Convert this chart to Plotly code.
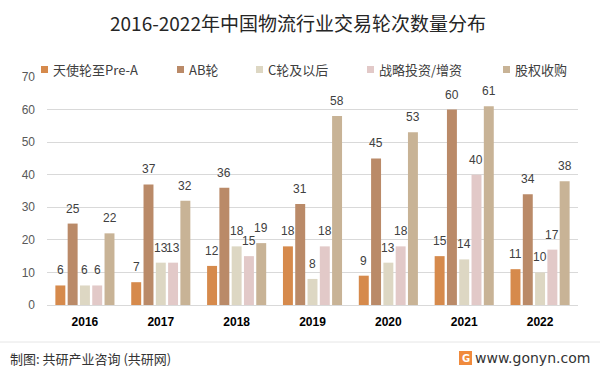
import plotly.graph_objects as go

years = ["2016", "2017", "2018", "2019", "2020", "2021", "2022"]
series_names = ["天使轮至Pre-A", "AB轮", "C轮及以后", "战略投资/增资", "股权收购"]
angel_prea = [6, 7, 12, 18, 9, 15, 11]
round_ab = [25, 37, 36, 31, 45, 60, 34]
round_c_plus = [6, 13, 18, 8, 13, 14, 10]
strategic = [6, 13, 15, 18, 18, 40, 17]
acquisition = [22, 32, 19, 58, 53, 61, 38]
y_ticks = [0, 10, 20, 30, 40, 50, 60, 70]

colors = ["#D68A4C", "#BA8A68", "#DDD7C3", "#E2C9C8", "#C8B396"]
values = [angel_prea, round_ab, round_c_plus, strategic, acquisition]

# plot area geometry (pixels)
PL, PR, PT, PB = 47, 578, 77, 305
PW, PH = PR - PL, PB - PT
BARGAP = 0.19
SLOT = PW / len(years) * (1 - BARGAP) / len(series_names)


def px(x):
    return (x - PL) / PW


def py(y):
    return (PB - y) / PH


fig = go.Figure()
annotations = []
shapes = []
n = len(series_names)
for i, (name, vals, col) in enumerate(zip(series_names, values, colors)):
    fig.add_trace(go.Bar(
        x=years, y=vals, name=name, marker=dict(color=col, line=dict(width=0)),
        showlegend=False,
    ))
    for j, v in enumerate(vals):
        # category axes place annotations by category index
        annotations.append(dict(x=j, y=v, xref="x", yref="y", text=str(v), showarrow=False,
                                xanchor="center", yanchor="bottom", yshift=6,
                                xshift=(i - (n - 1) / 2) * SLOT,
                                font=dict(size=12, color="#404040", family="Liberation Sans, Arial")))

font_cjk = "Noto Sans CJK SC, Microsoft YaHei, sans-serif"

# custom legend
leg_x = [41, 177, 256, 367, 503]
for xpos, name, col in zip(leg_x, series_names, colors):
    shapes.append(dict(type="rect", xref="paper", yref="paper",
                       x0=px(xpos), x1=px(xpos + 7),
                       y0=py(73), y1=py(66),
                       fillcolor=col, line=dict(width=0)))
    annotations.append(dict(text=name, xref="paper", yref="paper",
                            x=px(xpos + 10), y=py(69.5),
                            xanchor="left", yanchor="middle", showarrow=False,
                            font=dict(size=13, color="#404040", family=font_cjk)))

# title
annotations.append(dict(text="2016-2022年中国物流行业交易轮次数量分布", xref="paper", yref="paper",
                        x=px(298), y=py(22), xanchor="center", yanchor="middle",
                        showarrow=False, font=dict(size=19, color="#262626", family=font_cjk)))

# footer line
shapes.append(dict(type="line", xref="paper", yref="paper",
                   x0=px(0), x1=px(600), y0=py(342), y1=py(342),
                   line=dict(color="#E6E6E6", width=1)))
annotations.append(dict(text="制图: 共研产业咨询 (共研网)", xref="paper", yref="paper",
                        x=px(8), y=py(358), xanchor="left", yanchor="middle",
                        showarrow=False, font=dict(size=13, color="#333333", family=font_cjk)))
annotations.append(dict(text="www.gonyn.com", xref="paper", yref="paper",
                        x=px(592), y=py(358), xanchor="right", yanchor="middle",
                        showarrow=False, font=dict(size=14, color="#333333", family="DejaVu Sans, sans-serif")))
# logo
shapes.append(dict(type="rect", xref="paper", yref="paper",
                   x0=px(459), x1=px(472), y0=py(365), y1=py(351),
                   fillcolor="#F08A3C", line=dict(width=0)))
annotations.append(dict(text="<b>G</b>", xref="paper", yref="paper",
                        x=px(465.5), y=py(358), xanchor="center", yanchor="middle",
                        showarrow=False, font=dict(size=10, color="white", family="DejaVu Sans")))

fig.update_layout(
    width=600, height=372,
    margin=dict(l=PL, r=600 - PR, t=PT, b=372 - PB, pad=0),
    paper_bgcolor="white", plot_bgcolor="white",
    barmode="group", bargap=BARGAP, bargroupgap=0.19,
    showlegend=False,
    shapes=shapes, annotations=annotations,
    xaxis=dict(type="category", range=[-0.5, len(years) - 0.5], showgrid=False, showline=False, ticks="",
               tickfont=dict(size=12, color="#000000", family="Liberation Sans, Arial"),
               tickprefix="<b>", ticksuffix="</b>", ticklabelstandoff=8),
    yaxis=dict(range=[0, 70], tickvals=y_ticks, showgrid=True, gridcolor="#D9D9D9", gridwidth=1,
               zeroline=True, zerolinecolor="#D9D9D9", zerolinewidth=1, showline=False, ticks="",
               tickfont=dict(size=12, color="#595959", family="Liberation Sans, Arial"),
               ticklabelstandoff=11),
)

fig.write_html("out.html", config={"displayModeBar": False},
               post_script="document.body.style.margin='0';document.body.style.overflow='hidden';")
